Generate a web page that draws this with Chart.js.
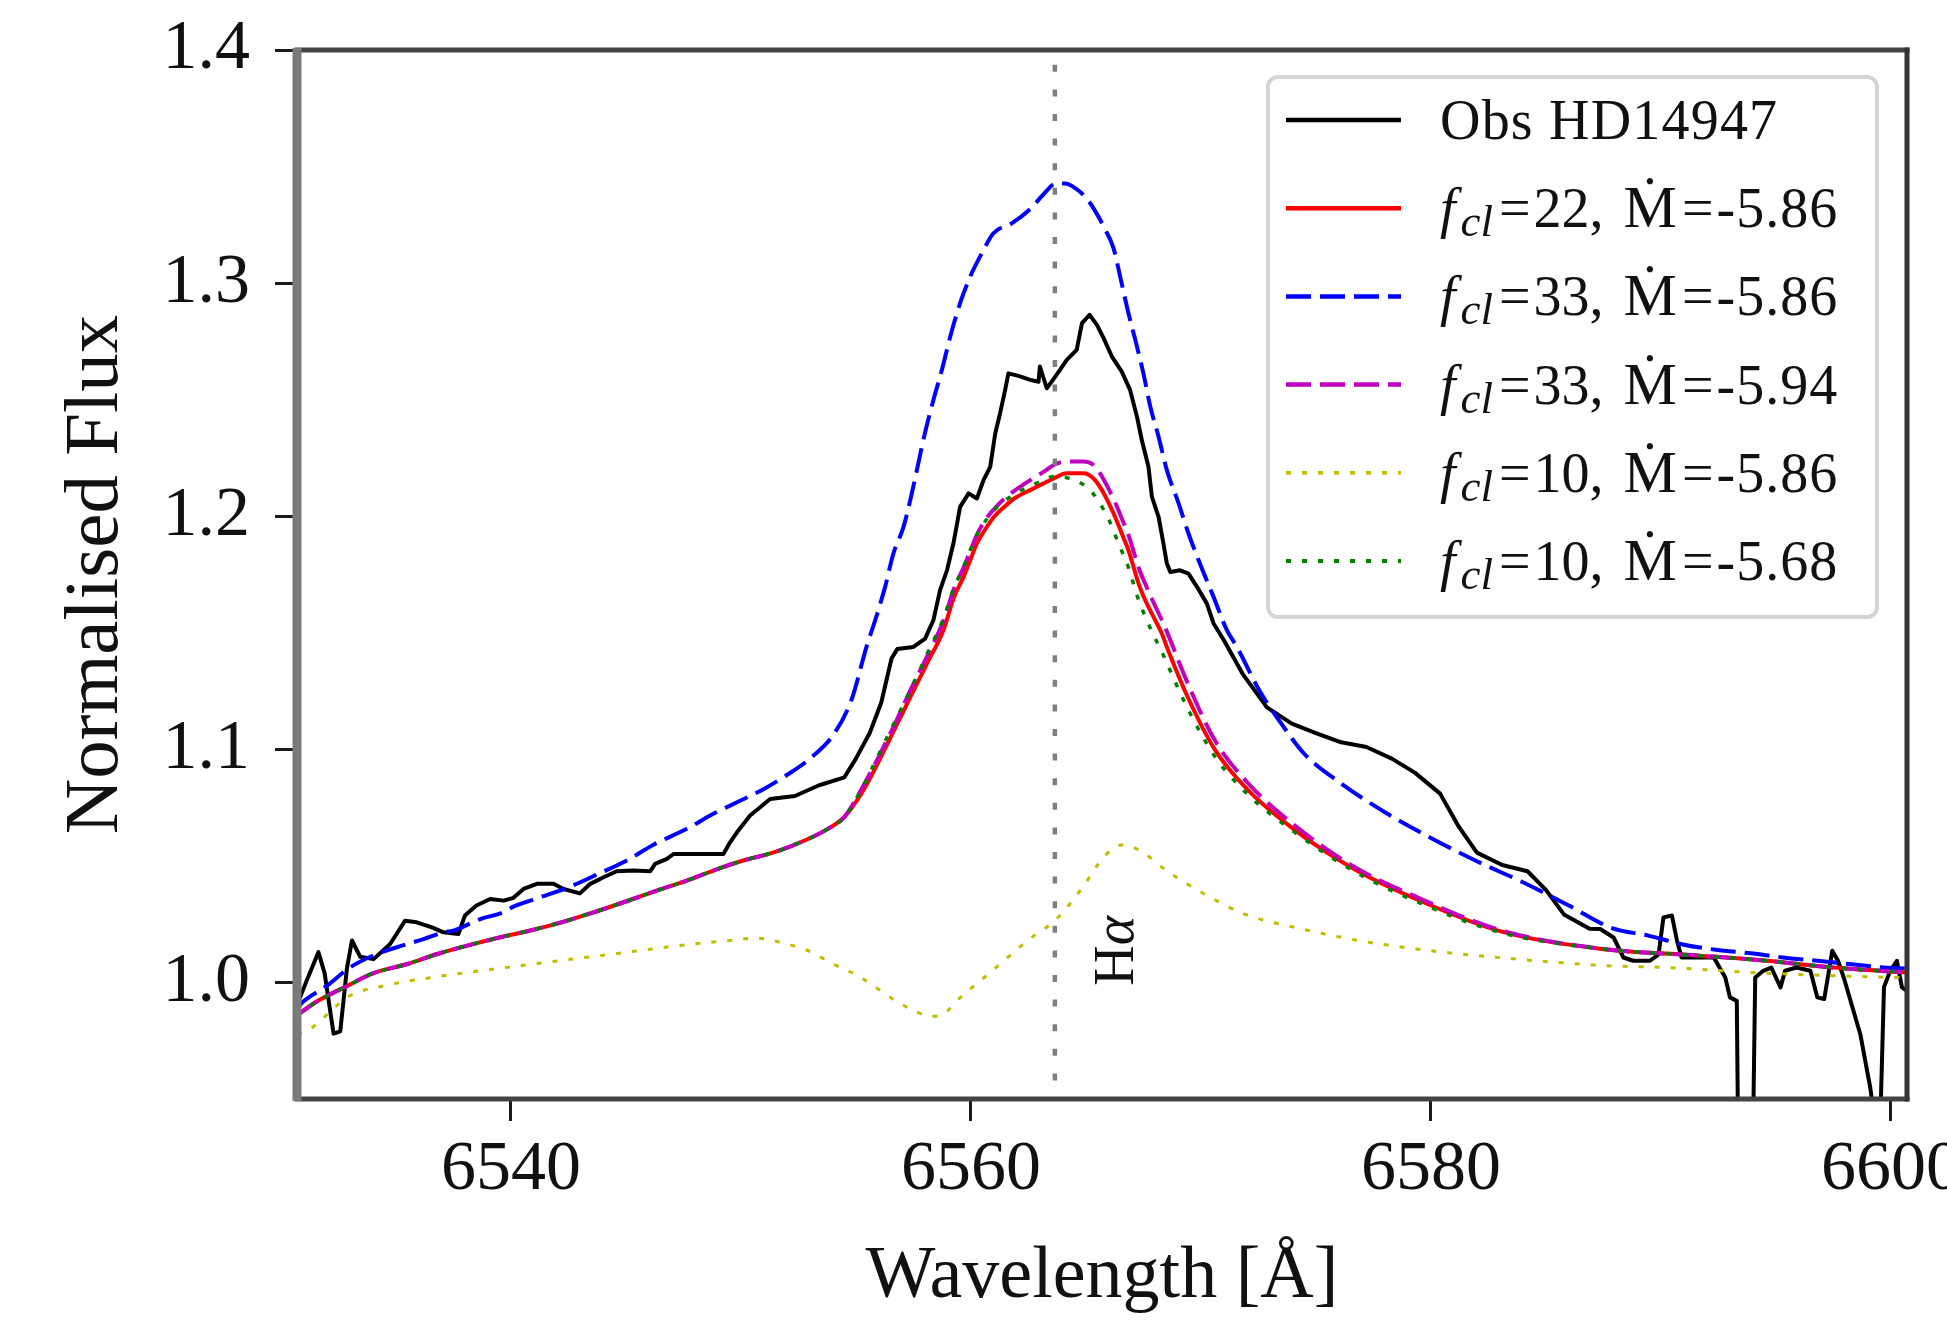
<!DOCTYPE html>
<html>
<head>
<meta charset="utf-8">
<script src="https://cdn.jsdelivr.net/npm/chart.js@4.4.1/dist/chart.umd.min.js"></script>
<style>
html,body{margin:0;padding:0;background:#ffffff;}
canvas{display:block;}
</style>
</head>
<body>
<canvas id="c" width="1947" height="1328"></canvas>
<script>
// ---------------- data ----------------
const obsLabel = 'Obs HD14947';
const obsWave = [6530.77,6531.13,6531.63,6531.9,6532.29,6532.58,6532.87,6533.09,6533.45,6534.03,6534.75,6535.4,6535.9,6536.57,6537.07,6537.72,6538.0,6538.5,6539.1,6539.68,6540.11,6540.55,6541.13,6541.85,6542.29,6543.0,6543.45,6544.03,6544.6,6545.33,6546.06,6546.27,6546.78,6547.07,6549.24,6549.53,6549.83,6550.4,6551.27,6552.35,6553.4,6554.5,6555.0,6555.6,6556.1,6556.55,6556.8,6557.5,6558.01,6558.37,6558.66,6558.96,6559.24,6559.53,6559.9,6560.26,6560.55,6560.84,6561.06,6561.27,6561.49,6561.63,6562.07,6562.58,6562.94,6563.0,6563.3,6563.67,6564.17,6564.6,6564.83,6565.16,6565.48,6565.77,6566.13,6566.56,6566.92,6567.22,6567.43,6567.72,6567.87,6568.16,6568.37,6568.52,6568.67,6569.1,6569.46,6569.83,6570.26,6570.55,6571.0,6571.8,6572.87,6573.95,6575.0,6576.1,6577.2,6578.3,6579.3,6580.4,6581.2,6582.0,6583.1,6584.2,6585.0,6585.8,6586.9,6587.36,6587.94,6588.37,6588.8,6589.53,6589.9,6590.11,6590.48,6590.7,6590.9,6591.7,6592.3,6592.8,6593.0,6593.3,6593.36,6593.7,6594.0,6594.1,6594.45,6594.8,6595.2,6595.4,6595.9,6596.5,6596.8,6597.1,6597.45,6597.7,6597.95,6598.67,6599.1,6599.25,6599.55,6599.7,6599.97,6600.26,6600.48,6600.7];
const obsFlux = [0.992,1.001,1.013,1.004,0.978,0.979,1.006,1.018,1.011,1.010,1.0165,1.0265,1.0258,1.0236,1.0215,1.0208,1.0287,1.033,1.0358,1.0351,1.0363,1.0401,1.0423,1.0423,1.0401,1.0382,1.0423,1.0451,1.0477,1.048,1.0477,1.0509,1.053,1.0551,1.0551,1.0601,1.0644,1.0716,1.0787,1.080,1.0846,1.088,1.096,1.107,1.120,1.139,1.143,1.1439,1.1475,1.1554,1.1683,1.1768,1.1883,1.204,1.2098,1.2076,1.2155,1.2212,1.2356,1.2442,1.2542,1.2613,1.2602,1.2585,1.2577,1.2642,1.2549,1.2599,1.2671,1.2714,1.2828,1.2864,1.2821,1.2764,1.2685,1.262,1.2542,1.2427,1.2327,1.2212,1.2083,1.1997,1.1883,1.1797,1.1761,1.1768,1.1754,1.1697,1.1625,1.154,1.1468,1.1326,1.118,1.111,1.107,1.103,1.101,1.096,1.090,1.081,1.067,1.0557,1.0504,1.0477,1.0397,1.029,1.023,1.0229,1.0193,1.0107,1.0093,1.0093,1.012,1.0279,1.0287,1.0179,1.0107,1.0107,1.0107,1.0021,0.9936,0.9921,0.93,0.93,0.93,1.0021,1.005,1.0064,0.9979,1.005,1.0064,1.005,0.9936,0.9929,1.0136,1.0093,1.0021,0.9778,0.955,0.944,0.944,0.998,1.005,1.0093,0.9979,0.9964];

const blueWave = [6530.7,6531.0,6532.0,6533.0,6534.17,6535.41,6536.2,6537.07,6537.5,6538.67,6539.68,6540.11,6541.2,6542.5,6543.81,6545.04,6546.2,6547.65,6548.74,6549.83,6551.0,6552.0,6553.0,6554.0,6554.8,6555.48,6555.84,6556.27,6556.63,6557.07,6557.43,6558.0,6558.37,6558.74,6559.1,6559.53,6559.97,6560.48,6560.98,6561.79,6562.6,6563.15,6563.69,6564.1,6564.55,6565.03,6565.4,6565.84,6566.2,6566.49,6566.85,6567.22,6567.5,6567.8,6568.16,6568.52,6569.03,6569.46,6569.9,6570.55,6571.13,6571.57,6572.5,6573.5,6574.5,6576.0,6578.0,6580.0,6582.0,6584.0,6586.0,6587.8,6589.5,6591.0,6592.4,6593.9,6595.3,6596.8,6598.2,6599.7,6600.7];
const blueFlux = [0.989,0.992,0.9986,1.0064,1.0122,1.0162,1.0186,1.0215,1.0222,1.0272,1.0301,1.0325,1.0363,1.0408,1.0466,1.0523,1.0591,1.0659,1.072,1.0773,1.083,1.089,1.096,1.106,1.121,1.1446,1.1554,1.1697,1.184,1.1954,1.2098,1.2356,1.2499,1.2628,1.277,1.2914,1.3028,1.3129,1.3214,1.3257,1.332,1.338,1.3427,1.3427,1.3406,1.3363,1.331,1.323,1.315,1.3028,1.2871,1.2728,1.2613,1.247,1.2341,1.2198,1.2055,1.1926,1.1811,1.1654,1.1511,1.1439,1.126,1.111,1.098,1.086,1.073,1.062,1.052,1.043,1.033,1.0236,1.020,1.0162,1.014,1.0125,1.0107,1.0093,1.0079,1.0064,1.006];

const modelWave = [6530.7,6531.6,6532.9,6534.0,6535.5,6536.8,6538.1,6539.5,6540.8,6542.2,6543.6,6544.9,6546.35,6547.65,6548.8,6550.1,6551.5,6552.8,6553.8,6554.5,6555.3,6556.0,6556.7,6557.4,6558.1,6558.8,6559.27,6559.68,6559.97,6560.26,6560.6,6561.0,6561.45,6561.9,6562.58,6563.16,6563.6,6564.17,6564.9,6565.33,6565.7,6566.0,6566.27,6566.56,6566.85,6567.07,6567.29,6567.58,6567.94,6568.3,6568.52,6569.4,6570.6,6572.0,6574.0,6576.6,6579.3,6583.0,6587.35,6591.7,6594.6,6597.5,6600.7];
const redFlux = [0.986,0.992,0.9986,1.0039,1.0079,1.0122,1.0158,1.0193,1.0222,1.0258,1.0301,1.0344,1.0394,1.0437,1.048,1.0523,1.056,1.061,1.066,1.071,1.082,1.095,1.109,1.123,1.137,1.151,1.1654,1.174,1.1811,1.1883,1.194,1.1997,1.204,1.2077,1.2112,1.2141,1.2162,1.2184,1.2184,1.2162,1.2112,1.2055,1.1997,1.1926,1.1854,1.1783,1.1711,1.164,1.1568,1.1497,1.1439,1.123,1.100,1.083,1.066,1.049,1.036,1.022,1.0145,1.0115,1.0093,1.0064,1.0043];
const magentaFlux = [0.986,0.992,0.9986,1.0039,1.0079,1.0122,1.0158,1.0193,1.0222,1.0258,1.0301,1.0344,1.0394,1.0437,1.048,1.0523,1.056,1.061,1.066,1.071,1.084,1.097,1.111,1.126,1.140,1.155,1.169,1.178,1.185,1.192,1.198,1.203,1.2075,1.211,1.2155,1.219,1.222,1.2235,1.2235,1.222,1.217,1.2115,1.206,1.199,1.192,1.185,1.178,1.171,1.163,1.1555,1.1505,1.129,1.104,1.086,1.068,1.050,1.037,1.0225,1.0145,1.0115,1.0093,1.0064,1.0043];
const yellowWave = [6530.7,6531.1,6533.0,6534.5,6536.6,6539.3,6542.1,6545.0,6547.65,6549.5,6550.7,6551.8,6552.9,6554.0,6555.06,6556.0,6556.7,6557.5,6558.0,6558.55,6559.0,6559.4,6560.2,6561.0,6561.8,6562.6,6563.7,6564.8,6565.8,6566.6,6567.45,6568.5,6570.2,6571.8,6574.5,6577.2,6579.9,6582.6,6587.6,6590.3,6593.9,6597.5,6600.7];
const yellowFlux = [0.978,0.979,0.9943,0.9986,1.0022,1.0058,1.0093,1.0129,1.0162,1.018,1.019,1.017,1.0137,1.008,1.003,0.997,0.9923,0.988,0.986,0.9855,0.988,0.9923,0.999,1.0056,1.0125,1.019,1.027,1.040,1.054,1.059,1.056,1.048,1.0377,1.0297,1.0227,1.0174,1.0137,1.011,1.0072,1.0064,1.0043,1.0029,1.002];
const greenFlux = [0.986,0.992,0.9986,1.0039,1.0079,1.0122,1.0158,1.0193,1.0222,1.0258,1.0301,1.0344,1.0394,1.0437,1.048,1.0523,1.056,1.061,1.066,1.071,1.084,1.098,1.112,1.126,1.141,1.156,1.1695,1.178,1.1855,1.192,1.1975,1.2025,1.2065,1.2095,1.213,1.2155,1.217,1.2165,1.2135,1.2095,1.204,1.1985,1.192,1.185,1.178,1.171,1.164,1.157,1.149,1.142,1.137,1.118,1.097,1.081,1.065,1.048,1.035,1.0215,1.0145,1.0115,1.0093,1.0064,1.0043];

const fclValues = [22, 33, 33, 10, 10];
const mdotValues = ['-5.86', '-5.86', '-5.94', '-5.86', '-5.68'];
const xTicks = [6540, 6560, 6580, 6600];
const yTicks = [1.0, 1.1, 1.2, 1.3, 1.4];
const xRange = [6530.7, 6600.7];
const yRange = [0.95, 1.4];
const hAlphaWave = 6563.65;
const hAlphaLabel = ['H', 'α'];
const hAlphaLabelPos = [6566.4, 1.0136];
const xTitle = 'Wavelength [Å]';
const yTitle = 'Normalised Flux';

// ---------------- styles ----------------
const FAMILY = "'Liberation Serif', 'DejaVu Serif', serif";
const pts = (w, f) => w.map((x, i) => ({x: x, y: f[i]}));

const datasets = [
  {label: obsLabel, data: pts(obsWave, obsFlux), borderColor: '#000000', borderWidth: 4, tension: 0, order: 6},
  {label: 'red', data: pts(modelWave, redFlux), borderColor: '#ff0000', borderWidth: 4, cubicInterpolationMode: 'monotone', order: 5},
  {label: 'blue', data: pts(blueWave, blueFlux), borderColor: '#0000ff', borderWidth: 4, borderDash: [25, 9], cubicInterpolationMode: 'monotone', order: 4},
  {label: 'magenta', data: pts(modelWave, magentaFlux), borderColor: '#bf00bf', borderWidth: 4, borderDash: [25, 9], cubicInterpolationMode: 'monotone', order: 3},
  {label: 'yellow', data: pts(yellowWave, yellowFlux), borderColor: '#bfbf00', borderWidth: 3, borderDash: [5, 11], cubicInterpolationMode: 'monotone', order: 2},
  {label: 'green', data: pts(modelWave, greenFlux), borderColor: '#008000', borderWidth: 3.5, borderDash: [5, 11], cubicInterpolationMode: 'monotone', order: 1}
];
datasets.forEach(d => { d.pointRadius = 0; d.fill = false; d.borderCapStyle = 'butt'; d.borderJoinStyle = 'round'; });

// ---------------- plugins ----------------
const framePlugin = {
  id: 'frame',
  afterDatasetsDraw(chart) {
    const {ctx, chartArea: a, scales} = chart;
    ctx.save();
    // H-alpha dotted line
    const hx = scales.x.getPixelForValue(hAlphaWave);
    ctx.strokeStyle = '#7f7f7f';
    ctx.lineWidth = 4.5;
    ctx.setLineDash([7, 17.6]);
    ctx.lineDashOffset = 9.8;
    ctx.beginPath(); ctx.moveTo(hx, a.top); ctx.lineTo(hx, a.bottom); ctx.stroke();
    ctx.setLineDash([]);
    // H-alpha label
    const lx = scales.x.getPixelForValue(hAlphaLabelPos[0]);
    const ly = scales.y.getPixelForValue(hAlphaLabelPos[1]);
    const HS = 56;
    ctx.translate(lx, ly); ctx.rotate(-Math.PI / 2);
    ctx.fillStyle = '#111';
    ctx.textBaseline = 'middle';
    ctx.font = `${HS}px ${FAMILY}`;
    const w1 = ctx.measureText(hAlphaLabel[0]).width;
    ctx.font = `italic ${HS}px ${FAMILY}`;
    const w2 = ctx.measureText(hAlphaLabel[1]).width;
    const sx = -(w1 + w2) / 2;
    ctx.font = `${HS}px ${FAMILY}`;
    ctx.fillText(hAlphaLabel[0], sx, 0);
    ctx.font = `italic ${HS}px ${FAMILY}`;
    ctx.fillText(hAlphaLabel[1], sx + w1, 0);
    ctx.setTransform(1, 0, 0, 1, 0, 0);
    // spines
    ctx.lineCap = 'square';
    ctx.strokeStyle = '#444';
    ctx.lineWidth = 5;
    ctx.beginPath(); ctx.moveTo(a.left, a.top); ctx.lineTo(a.right, a.top); ctx.stroke();
    ctx.beginPath(); ctx.moveTo(a.left, a.bottom); ctx.lineTo(a.right, a.bottom); ctx.stroke();
    ctx.strokeStyle = '#333';
    ctx.beginPath(); ctx.moveTo(a.right, a.top); ctx.lineTo(a.right, a.bottom); ctx.stroke();
    ctx.strokeStyle = '#7a7a7a';
    ctx.lineWidth = 9;
    ctx.lineCap = 'butt';
    ctx.beginPath(); ctx.moveTo(a.left, a.top - 2); ctx.lineTo(a.left, a.bottom + 2); ctx.stroke();
    ctx.restore();
  }
};

function roundRect(ctx, x, y, w, h, r) {
  ctx.beginPath();
  ctx.moveTo(x + r, y);
  ctx.lineTo(x + w - r, y); ctx.arcTo(x + w, y, x + w, y + r, r);
  ctx.lineTo(x + w, y + h - r); ctx.arcTo(x + w, y + h, x + w - r, y + h, r);
  ctx.lineTo(x + r, y + h); ctx.arcTo(x, y + h, x, y + h - r, r);
  ctx.lineTo(x, y + r); ctx.arcTo(x, y, x + r, y, r);
  ctx.closePath();
}

const legendPlugin = {
  id: 'mplLegend',
  afterDraw(chart) {
    const {ctx, chartArea: a} = chart;
    const boxW = 609, boxH = 540;
    const bx = a.right - 30 - boxW, by = a.top + 27;
    ctx.save();
    roundRect(ctx, bx, by, boxW, boxH, 10);
    ctx.fillStyle = 'rgba(255,255,255,0.85)';
    ctx.fill();
    ctx.strokeStyle = '#d4d4d4';
    ctx.lineWidth = 4;
    ctx.stroke();
    const S = 56;
    const rowY0 = by + 43, rowStep = 88.2;
    const lineX0 = bx + 18, lineX1 = bx + 133, textX = bx + 172;
    datasets.forEach((d, i) => {
      const y = rowY0 + i * rowStep;
      ctx.strokeStyle = d.borderColor;
      ctx.lineWidth = d.borderWidth + 0.5;
      ctx.lineCap = 'butt';
      ctx.setLineDash(d.borderDash || []);
      ctx.lineDashOffset = 0;
      ctx.beginPath(); ctx.moveTo(lineX0, y); ctx.lineTo(lineX1, y); ctx.stroke();
      ctx.setLineDash([]);
      ctx.fillStyle = '#111';
      ctx.textBaseline = 'alphabetic';
      const base = y + 19;
      let runs;
      if (i === 0) {
        runs = [{t: obsLabel, f: `${S}px ${FAMILY}`, ls: '1.2px'}];
      } else {
        runs = [
          {t: 'f', f: `italic ${S}px ${FAMILY}`, gap: 5},
          {t: 'cl', f: `italic ${Math.round(S * 0.8)}px ${FAMILY}`, dy: 9, gap: 6},
          {t: '=', f: `${S}px ${FAMILY}`, gap: 3},
          {t: fclValues[i - 1] + ',', f: `${S}px ${FAMILY}`, gap: 20},
          {t: 'Ṁ', f: `${S + 4}px ${FAMILY}`, gap: 5},
          {t: '=', f: `${S}px ${FAMILY}`, gap: 3},
          {t: mdotValues[i - 1], f: `${S}px ${FAMILY}`, ls: '1px'}
        ];
      }
      let x = textX;
      runs.forEach(r => {
        ctx.font = r.f;
        ctx.letterSpacing = r.ls || '0px';
        ctx.fillText(r.t, x, base + (r.dy || 0));
        x += ctx.measureText(r.t).width + (r.gap || 0);
      });
      ctx.letterSpacing = '0px';
    });
    ctx.restore();
  }
};

// ---------------- chart ----------------
const tickFont = {family: FAMILY, size: 70};
new Chart(document.getElementById('c'), {
  type: 'line',
  data: {datasets: datasets},
  plugins: [framePlugin, legendPlugin],
  options: {
    responsive: false,
    animation: false,
    devicePixelRatio: 1,
    layout: {padding: {left: 0, top: 50, right: 40, bottom: 0}},
    plugins: {legend: {display: false}, tooltip: {enabled: false}},
    scales: {
      x: {
        type: 'linear', min: xRange[0], max: xRange[1],
        afterBuildTicks: s => { s.ticks = xTicks.map(v => ({value: v})); },
        afterFit: s => { s.height = 229; s.paddingLeft = 0; s.paddingRight = 0; },
        grid: {drawOnChartArea: false, drawTicks: true, tickLength: 22, tickWidth: 3, tickColor: '#1a1a1a'},
        border: {display: false},
        ticks: {font: tickFont, color: '#111', padding: 8, maxRotation: 0, autoSkip: false, callback: v => String(v)},
        title: {display: true, text: xTitle, font: {family: FAMILY, size: 74}, color: '#111', padding: {top: 0, bottom: 6}}
      },
      y: {
        type: 'linear', min: yRange[0], max: yRange[1],
        afterBuildTicks: s => { s.ticks = yTicks.map(v => ({value: v})); },
        afterFit: s => { s.width = 297; s.paddingTop = 0; s.paddingBottom = 0; },
        grid: {drawOnChartArea: false, drawTicks: true, tickLength: 22, tickWidth: 3, tickColor: '#1a1a1a'},
        border: {display: false},
        ticks: {font: tickFont, color: '#111', padding: 25, autoSkip: false, callback: v => Number(v).toFixed(1)},
        title: {display: true, text: yTitle, font: {family: FAMILY, size: 77}, color: '#111', padding: {top: 51, bottom: 0}}
      }
    }
  }
});
</script>
</body>
</html>
